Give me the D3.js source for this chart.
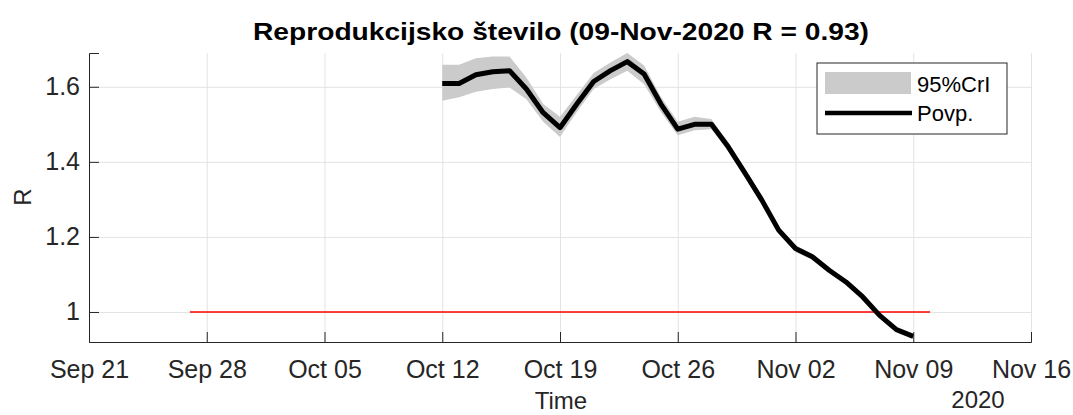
<!DOCTYPE html>
<html>
<head>
<meta charset="utf-8">
<script src="https://cdn.jsdelivr.net/npm/d3@7"></script>
<style>
  body { margin: 0; background: #fff; }
  text { font-family: "Liberation Sans", Arial, sans-serif; }
</style>
</head>
<body>
<svg id="chart" width="1073" height="415"></svg>
<script>
// daily estimates, 12 Oct .. 9 Nov 2020
const startDay = "2020-10-12";
const rMean = [1.609, 1.609, 1.632, 1.640, 1.643, 1.594, 1.531, 1.491, 1.554, 1.614,
               1.643, 1.667, 1.634, 1.554, 1.487, 1.500, 1.500, 1.440, 1.370, 1.298,
               1.218, 1.169, 1.147, 1.111, 1.080, 1.040, 0.991, 0.953, 0.935];
const rUpper = [1.659, 1.659, 1.676, 1.681, 1.681, 1.625, 1.554, 1.520, 1.578, 1.637,
                1.665, 1.690, 1.657, 1.573, 1.507, 1.520, 1.514, 1.452, 1.381, 1.309,
                1.228, 1.178, 1.155, 1.119, 1.087, 1.046, 0.997, 0.958, 0.940];
const rLower = [1.563, 1.572, 1.587, 1.594, 1.598, 1.567, 1.507, 1.466, 1.533, 1.594,
                1.620, 1.643, 1.607, 1.533, 1.471, 1.484, 1.487, 1.428, 1.359, 1.287,
                1.208, 1.160, 1.139, 1.103, 1.073, 1.034, 0.985, 0.948, 0.930];
const thresholdSpan = ["2020-09-27", "2020-11-10"];
const thresholdValue = 1;
const xTicks = ["2020-09-21", "2020-09-28", "2020-10-05", "2020-10-12", "2020-10-19",
                "2020-10-26", "2020-11-02", "2020-11-09", "2020-11-16"];
const yTicks = [1, 1.2, 1.4, 1.6];
const titleText = "Reprodukcijsko število (09-Nov-2020 R = 0.93)";
const legendLabels = ["95%CrI", "Povp."];

const parse = d3.utcParse("%Y-%m-%d");
const day0 = parse(startDay);
const data = rMean.map((v, i) => ({
  date: d3.utcDay.offset(day0, i), mean: v, lo: rLower[i], hi: rUpper[i]
}));

const svg = d3.select("#chart");
const margin = { left: 89, right: 42, top: 53, bottom: 73 };
const width = +svg.attr("width"), height = +svg.attr("height");
const innerWidth = width - margin.left - margin.right;
const innerHeight = height - margin.top - margin.bottom;
const axisColor = "#262626";
const fontFam = "'Liberation Sans', Arial, sans-serif";

const x = d3.scaleUtc()
  .domain([parse(xTicks[0]), parse(xTicks[xTicks.length - 1])])
  .range([0, innerWidth]);
const y = d3.scaleLinear().domain([0.92, 1.69]).range([innerHeight, 0]);

const g = svg.append("g").attr("transform", `translate(${margin.left},${margin.top})`);

// grid
g.append("g").attr("transform", `translate(0,${innerHeight})`)
  .call(d3.axisBottom(x).tickValues(xTicks.map(parse)).tickSize(-innerHeight).tickFormat(""))
  .call(a => a.select(".domain").remove())
  .call(a => a.selectAll("text").remove())
  .call(a => a.selectAll("line").attr("stroke", "#e3e3e3"));
g.append("g")
  .call(d3.axisLeft(y).tickValues(yTicks).tickSize(-innerWidth).tickFormat(""))
  .call(a => a.select(".domain").remove())
  .call(a => a.selectAll("text").remove())
  .call(a => a.selectAll("line").attr("stroke", "#e3e3e3"));

// credible interval band
g.append("path")
  .datum(data)
  .attr("fill", "#cbcbcb")
  .attr("d", d3.area().x(d => x(d.date)).y0(d => y(d.lo)).y1(d => y(d.hi)));

// threshold
g.append("line")
  .attr("x1", x(parse(thresholdSpan[0]))).attr("x2", x(parse(thresholdSpan[1])))
  .attr("y1", y(thresholdValue)).attr("y2", y(thresholdValue))
  .attr("stroke", "#ff0000").attr("stroke-width", 1.5);

// mean line
g.append("path")
  .datum(data)
  .attr("fill", "none")
  .attr("stroke", "#000")
  .attr("stroke-width", 5)
  .attr("stroke-linejoin", "round")
  .attr("d", d3.line().x(d => x(d.date)).y(d => y(d.mean)));

// axes
const fmt = d3.utcFormat("%b %d");
g.append("g").attr("transform", `translate(0,${innerHeight})`)
  .call(d3.axisBottom(x).tickValues(xTicks.map(parse)).tickSize(-10).tickFormat(fmt))
  .attr("font-size", 25).attr("font-family", fontFam)
  .call(a => a.selectAll("path,line").attr("stroke", axisColor))
  .call(a => a.selectAll("text").attr("fill", axisColor).attr("dy", null).attr("y", 36));
g.append("g")
  .call(d3.axisLeft(y).tickValues(yTicks).tickSize(-10).tickFormat(d3.format("")))
  .attr("font-size", 25).attr("font-family", fontFam)
  .call(a => a.selectAll("path,line").attr("stroke", axisColor))
  .call(a => a.selectAll("text").attr("fill", axisColor).attr("dy", null).attr("y", 8).attr("x", -9));

// labels
svg.append("text").attr("x", 561).attr("y", 40).attr("text-anchor", "middle")
  .attr("font-size", 24).attr("font-weight", "bold").attr("fill", "#000")
  .attr("textLength", 616).attr("lengthAdjust", "spacingAndGlyphs").text(titleText);
svg.append("text").attr("x", 561).attr("y", 409).attr("text-anchor", "middle")
  .attr("font-size", 24).attr("fill", axisColor).text("Time");
svg.append("text").attr("x", 978).attr("y", 408).attr("text-anchor", "middle")
  .attr("font-size", 24).attr("fill", axisColor).text("2020");
svg.append("text").attr("transform", "translate(31,197) rotate(-90)").attr("text-anchor", "middle")
  .attr("font-size", 24).attr("fill", axisColor).text("R");

// legend
const lg = svg.append("g").attr("transform", "translate(817,63)");
lg.append("rect").attr("width", 190).attr("height", 71)
  .attr("fill", "#fff").attr("stroke", axisColor).attr("stroke-width", 1);
lg.append("rect").attr("x", 8).attr("y", 9).attr("width", 86).attr("height", 22).attr("fill", "#cbcbcb");
lg.append("line").attr("x1", 8).attr("x2", 95).attr("y1", 50).attr("y2", 50)
  .attr("stroke", "#000").attr("stroke-width", 4.5);
lg.append("text").attr("x", 100).attr("y", 29).attr("font-size", 22).attr("fill", "#000").text(legendLabels[0]);
lg.append("text").attr("x", 100).attr("y", 58).attr("font-size", 22).attr("fill", "#000").text(legendLabels[1]);
</script>
</body>
</html>
